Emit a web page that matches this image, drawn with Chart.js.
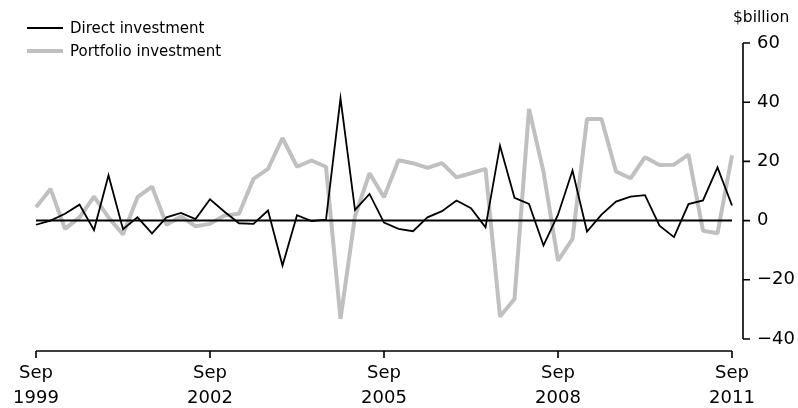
<!DOCTYPE html>
<html>
<head>
<meta charset="utf-8">
<script src="https://cdn.jsdelivr.net/npm/chart.js@4.4.0/dist/chart.umd.min.js"></script>
<style>
  body { margin: 0; background: #fff; }
  #wrap { position: relative; width: 798px; height: 408px; }
  #legend { position: absolute; left: 27px; top: 16px; font: 15px 'DejaVu Sans', sans-serif; color: #000; }
  .item { display: flex; align-items: center; height: 23px; }
  .swatch { width: 36px; margin-right: 7px; }
  #unit { position: absolute; left: 733px; top: 8px; font: 15.5px 'DejaVu Sans', sans-serif; color: #000; }
</style>
</head>
<body>
<div id="wrap">
  <canvas id="chart" width="798" height="408"></canvas>
  <div id="legend"></div>
  <div id="unit">$billion</div>
</div>
<script>
'use strict';

// quarters, Sep 1999 .. Sep 2011
const quarters = [
  'Sep-1999', 'Dec-1999', 'Mar-2000', 'Jun-2000',
  'Sep-2000', 'Dec-2000', 'Mar-2001', 'Jun-2001',
  'Sep-2001', 'Dec-2001', 'Mar-2002', 'Jun-2002',
  'Sep-2002', 'Dec-2002', 'Mar-2003', 'Jun-2003',
  'Sep-2003', 'Dec-2003', 'Mar-2004', 'Jun-2004',
  'Sep-2004', 'Dec-2004', 'Mar-2005', 'Jun-2005',
  'Sep-2005', 'Dec-2005', 'Mar-2006', 'Jun-2006',
  'Sep-2006', 'Dec-2006', 'Mar-2007', 'Jun-2007',
  'Sep-2007', 'Dec-2007', 'Mar-2008', 'Jun-2008',
  'Sep-2008', 'Dec-2008', 'Mar-2009', 'Jun-2009',
  'Sep-2009', 'Dec-2009', 'Mar-2010', 'Jun-2010',
  'Sep-2010', 'Dec-2010', 'Mar-2011', 'Jun-2011',
  'Sep-2011'
];

const directInvestment = [
  -1.4, 0.0, 2.3, 5.4, -3.2, 15.3, -2.9, 1.1, -4.3, 1.1, 2.6, 0.5,
  7.2, 3.0, -0.9, -1.1, 3.4, -15.2, 1.8, -0.2, 0.3, 41.3, 3.6, 9.0,
  -0.7, -2.8, -3.6, 1.1, 3.2, 6.8, 4.2, -2.3, 25.3, 7.7, 5.6, -8.4,
  2.0, 16.9, -3.7, 2.0, 6.4, 8.1, 8.6, -1.7, -5.6, 5.6, 6.8, 18.0,
  5.1
];

const portfolioInvestment = [
  4.5, 10.7, -2.8, 1.1, 8.1, 1.1, -4.7, 7.9, 11.5, -1.4, 1.4, -1.9,
  -1.1, 1.7, 2.3, 14.1, 17.5, 27.9, 18.2, 20.3, 18.2, -33.2, 1.5, 16.0,
  7.9, 20.4, 19.4, 17.8, 19.4, 14.6, 16.0, 17.5, -32.4, -26.5, 37.7, 16.5,
  -13.5, -6.2, 34.3, 34.3, 16.6, 14.3, 21.4, 18.8, 18.9, 22.3, -3.4, -4.3,
  22.0
];

// x tick labels (only these quarters get a tick)
const tickQuarters = ['Sep-1999', 'Sep-2002', 'Sep-2005', 'Sep-2008', 'Sep-2011'];
const yTicks = [-40, -20, 0, 20, 40, 60];

const FONT = 'DejaVu Sans';

// axis lines drawn a little away from the plot, like the original
const axesPlugin = {
  id: 'axes',
  afterDatasetDraw(chart, args) {
    // zero line goes between the grey and the black series
    if (args.index !== 1) return;
    const {ctx, chartArea, scales: {y}} = chart;
    const y0 = y.getPixelForValue(0);
    ctx.save();
    ctx.strokeStyle = '#000';
    ctx.lineWidth = 2;
    ctx.beginPath();
    ctx.moveTo(chartArea.left, y0);
    ctx.lineTo(chartArea.right, y0);
    ctx.stroke();
    ctx.restore();
  },
  afterDraw(chart) {
    const {ctx, chartArea, scales: {x, y}} = chart;
    ctx.save();
    ctx.strokeStyle = '#000';
    ctx.lineWidth = 1.6;

    // x axis
    const xAxisY = y.getPixelForValue(-40) + 12;
    ctx.beginPath();
    ctx.moveTo(x.getPixelForValue(0), xAxisY);
    ctx.lineTo(x.getPixelForValue(quarters.length - 1), xAxisY);
    for (const q of tickQuarters) {
      const px = x.getPixelForValue(quarters.indexOf(q));
      ctx.moveTo(px, xAxisY);
      ctx.lineTo(px, xAxisY + 7);
    }
    ctx.stroke();

    // y axis on the right
    const yAxisX = chartArea.right + 11;
    ctx.beginPath();
    ctx.moveTo(yAxisX, y.getPixelForValue(60));
    ctx.lineTo(yAxisX, y.getPixelForValue(-40));
    for (const v of yTicks) {
      const py = y.getPixelForValue(v);
      ctx.moveTo(yAxisX, py);
      ctx.lineTo(yAxisX + 7, py);
    }
    ctx.stroke();
    ctx.restore();
  }
};

const ctx = document.getElementById('chart').getContext('2d');

const chart = new Chart(ctx, {
  type: 'line',
  data: {
    labels: quarters,
    datasets: [
      {
        label: 'Direct investment',
        data: directInvestment,
        borderColor: '#000000',
        borderWidth: 1.8,
        borderJoinStyle: 'miter',
        order: 0
      },
      {
        label: 'Portfolio investment',
        data: portfolioInvestment,
        borderColor: '#c0c0c0',
        borderWidth: 4,
        borderJoinStyle: 'bevel',
        order: 1
      }
    ]
  },
  options: {
    responsive: false,
    animation: false,
    elements: {
      point: { radius: 0 },
      line: { tension: 0 }
    },
    layout: { padding: { left: 36, top: 43, right: 0, bottom: 0 } },
    plugins: {
      legend: { display: false },
      tooltip: { enabled: false }
    },
    scales: {
      x: {
        offset: false,
        border: { display: false },
        grid: { display: false, drawTicks: false },
        ticks: {
          autoSkip: false,
          maxRotation: 0,
          padding: 22,
          color: '#000',
          font: { family: FONT, size: 18, lineHeight: 1.4 },
          callback(value, index) {
            const q = quarters[index];
            if (!tickQuarters.includes(q)) return null;
            const [month, year] = q.split('-');
            return [month, year];
          }
        },
        afterFit(scale) {
          // fixed height, and don't let the end labels push the plot inwards
          scale.height = 69;
          scale.paddingLeft = 0;
          scale.paddingRight = 0;
        }
      },
      y: {
        position: 'right',
        min: -40,
        max: 60,
        border: { display: false },
        grid: { display: false, drawTicks: false },
        ticks: {
          stepSize: 20,
          padding: 25,
          color: '#000',
          font: { family: FONT, size: 18 },
          callback: (v) => (v < 0 ? '\u2212' + Math.abs(v) : String(v))
        },
        afterFit(scale) { scale.width = 66; }
      }
    }
  },
  plugins: [axesPlugin]
});

// legend built from the datasets
const legendBox = document.getElementById('legend');
for (const ds of chart.data.datasets) {
  const item = document.createElement('div');
  item.className = 'item';
  const swatch = document.createElement('span');
  swatch.className = 'swatch';
  swatch.style.borderTop = `${Math.round(ds.borderWidth)}px solid ${ds.borderColor}`;
  item.appendChild(swatch);
  const text = document.createElement('span');
  text.innerText = ds.label;
  item.appendChild(text);
  legendBox.appendChild(item);
}
</script>
</body>
</html>
